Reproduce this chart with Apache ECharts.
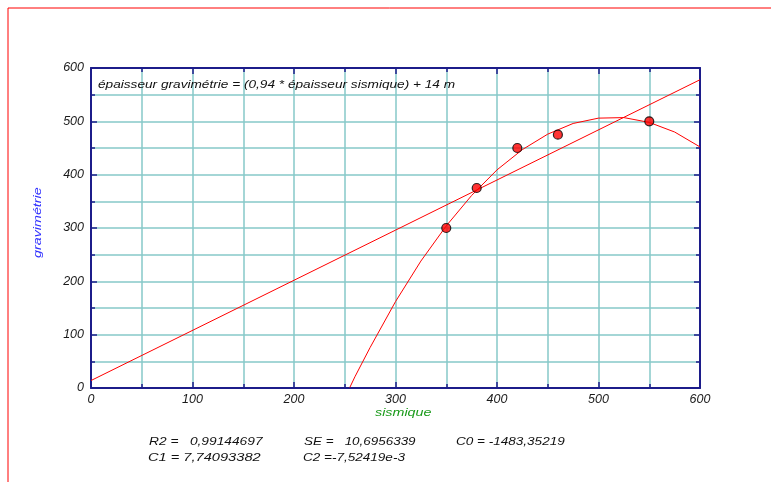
<!DOCTYPE html>
<html><head><meta charset="utf-8">
<script src="https://cdn.jsdelivr.net/npm/echarts@6/dist/echarts.min.js"></script>
<style>html,body{margin:0;padding:0;background:#fff}#c{width:771px;height:482px}</style>
</head><body><div id="c"></div>
<script>
// Observed data points (sismique, gravimétrie)
const pointsX = [350, 380, 420, 460, 550];
const pointsY = [300, 375, 450, 475, 500];
// Linear fit line endpoints
const lineX = [0, 600];
const lineY = [14, 578];
// Quadratic fit curve
const curveX = [255, 260, 275, 300, 325, 350, 375, 400, 425, 450, 475, 500, 525, 550, 575, 600];
const curveY = [1, 21, 76, 162, 238, 304, 361, 409, 447, 476, 496, 506, 507, 498, 480, 452];
// Axis ticks
const xTicks = ['0','100','200','300','400','500','600'];
const yTicks = ['0','100','200','300','400','500','600'];
const xName = 'sismique';
const yName = 'gravimétrie';
const titleText = 'épaisseur gravimétrie = (0,94 * épaisseur sismique) + 14 m';
const statsRow1 = ['R2 =   0,99144697', 'SE =   10,6956339', 'C0 = -1483,35219'];
const statsRow2 = ['C1 = 7,74093382', 'C2 =-7,52419e-3'];

const navy = '#1c1c8a';
const teal = '#86c9c9';
const font = 'Liberation Sans, Arial, sans-serif';

const zip = (a, b) => a.map((v, i) => [v, b[i]]);

function axisBase(pos, show, labels, isY) {
  return {
    type: 'value', min: 0, max: 600, interval: 100, position: pos,
    axisLine: { show: true, onZero: false, lineStyle: { color: navy, width: 2 } },
    axisTick: { show: true, inside: true, length: 6, lineStyle: { color: navy, width: 1.5 } },
    minorTick: { show: true, splitNumber: 2, length: 4, lineStyle: { color: navy, width: 1.5 } },
    splitLine: { show: show, lineStyle: { color: teal, width: 1.5 } },
    minorSplitLine: { show: show, lineStyle: { color: teal, width: 1.5 } },
    axisLabel: show ? {
      show: true, fontStyle: 'italic', fontFamily: font, fontSize: 12.5, color: '#1a1a1a',
      margin: isY ? 7 : 5,
      formatter: v => { const s = String(v); return labels.includes(s) ? s : ''; }
    } : { show: false }
  };
}

function txt(s, x, y, sx, color) {
  return { type: 'text', x: x, y: y, scaleX: sx, z: 100,
    style: { text: s, font: 'italic 11px ' + font, fill: color || '#111', textBaseline: 'top', textAlign: 'left' } };
}

const chart = echarts.init(document.getElementById('c'), null, { renderer: 'canvas' });
chart.setOption({
  animation: false,
  backgroundColor: '#fff',
  grid: { left: 91, right: 71, top: 68, bottom: 94, show: false },
  xAxis: [ axisBase('bottom', true, xTicks, false), axisBase('top', false, xTicks, false) ],
  yAxis: [ axisBase('left', true, yTicks, true), axisBase('right', false, yTicks, true) ],
  graphic: [
    { type: 'line', shape: { x1: 8, y1: 8, x2: 771, y2: 8 }, style: { stroke: '#ff0000', lineWidth: 1 }, z: 100 },
    { type: 'line', shape: { x1: 8, y1: 8, x2: 8, y2: 482 }, style: { stroke: '#ff0000', lineWidth: 1 }, z: 100 },
    txt(titleText, 98, 79, 1.24),
    txt(xName, 375, 407, 1.3, '#1a9a1a'),
    { type: 'text', x: 32, y: 258, rotation: Math.PI / 2, scaleX: 1.3, z: 100,
      style: { text: yName, font: 'italic 11px ' + font, fill: '#3030ff', textBaseline: 'top', textAlign: 'left' } },
    txt(statsRow1[0], 149, 436, 1.25),
    txt(statsRow1[1], 304, 436, 1.22),
    txt(statsRow1[2], 456, 436, 1.23),
    txt(statsRow2[0], 148, 452, 1.33),
    txt(statsRow2[1], 303, 452, 1.23)
  ],
  series: [
    { type: 'line', data: zip(lineX, lineY), showSymbol: false, lineStyle: { color: '#ff0000', width: 1 }, z: 3 },
    { type: 'line', data: zip(curveX, curveY), showSymbol: false, smooth: false, lineStyle: { color: '#ff0000', width: 1 }, z: 3 },
    { type: 'scatter', data: zip(pointsX, pointsY), symbolSize: 9,
      itemStyle: { color: '#ff0000', borderColor: '#000', borderWidth: 1.2 }, z: 5 }
  ]
});
</script>
</body></html>
